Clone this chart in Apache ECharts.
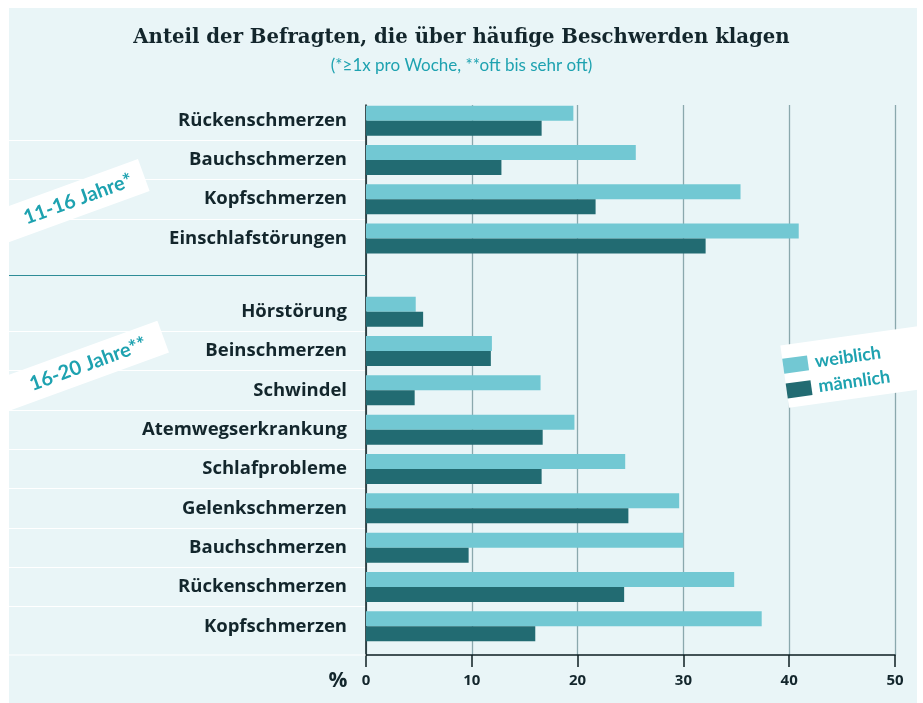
<!DOCTYPE html>
<html><head><meta charset="utf-8">
<script src="https://cdn.jsdelivr.net/npm/echarts@6/dist/echarts.min.js"></script>
<style>html,body{margin:0;padding:0;background:#fff}#c{width:923px;height:703px}</style>
</head><body><div id="c"></div>
<script>
const titleText = 'Anteil der Befragten, die über häufige Beschwerden klagen';
const subtitleText = '(*≥1x pro Woche, **oft bis sehr oft)';
const groupLabels = ['11-16 Jahre*', '16-20 Jahre**'];
const seriesNames = ['weiblich', 'männlich'];
const categories1 = ['Rückenschmerzen', 'Bauchschmerzen', 'Kopfschmerzen', 'Einschlafstörungen'];
const female1 = [19.6, 25.5, 35.4, 40.9];
const male1 = [16.6, 12.8, 21.7, 32.1];
const categories2 = ['Hörstörung', 'Beinschmerzen', 'Schwindel', 'Atemwegserkrankung', 'Schlafprobleme', 'Gelenkschmerzen', 'Bauchschmerzen', 'Rückenschmerzen', 'Kopfschmerzen'];
const female2 = [4.7, 11.9, 16.5, 19.7, 24.5, 29.6, 30.0, 34.8, 37.4];
const male2 = [5.4, 11.8, 4.6, 16.7, 16.6, 24.8, 9.7, 24.4, 16.0];
const xMin = 0, xMax = 50, xStep = 10;
const axisUnit = '%';

const COL_F = '#72c8d3', COL_M = '#226b72', TEAL = '#1ea2b0', DARK = '#13262c', BG = '#e9f5f7';
const FONT = 'Lato';
const LABEL_FONT = 'Open Sans';
const L = 366, R = 28;

const chart = echarts.init(document.getElementById('c'), null, {renderer: 'canvas'});

function catAxis(gi, data) {
  return {
    gridIndex: gi, type: 'category', data: data, inverse: true,
    axisLine: {show: false},
    axisTick: {show: false},
    axisLabel: {margin: 19, fontFamily: LABEL_FONT, fontWeight: 'bold', fontSize: 18.5, color: DARK},
    splitLine: {show: false}
  };
}
function sepAxis(gi, data) {
  return {
    gridIndex: gi, type: 'category', data: data, inverse: true,
    axisLine: {show: false}, axisTick: {show: false}, axisLabel: {show: false},
    splitLine: {show: true, showMinLine: false, showMaxLine: false, lineStyle: {color: '#ffffff', width: 1.2}}
  };
}
function hiddenX(gi) {
  return {gridIndex: gi, type: 'value', min: xMin, max: xMax, interval: xStep, show: false, splitLine: {show: false}};
}
function bar(name, data, gi, color) {
  return {
    name: name, type: 'bar', xAxisIndex: gi, yAxisIndex: gi, data: data,
    barWidth: 15, barGap: '0%', itemStyle: {color: color}, z: 3, animation: false
  };
}

function tiltedLabel(text, cx, cy, angleDeg, left, right, half) {
  return {
    type: 'group', x: cx, y: cy, rotation: angleDeg * Math.PI / 180, z: 20,
    children: [
      {type: 'rect', shape: {x: -left, y: -half, width: left + right, height: half * 2}, style: {fill: '#ffffff'}, z: 20},
      {type: 'text', x: 0, y: 0, z: 21, style: {text: text, fill: TEAL, fontFamily: FONT, fontWeight: 'bold', fontSize: 20,
        align: 'center', verticalAlign: 'middle', textAlign: 'center', textVerticalAlign: 'middle'}}
    ]
  };
}

const option = {
  backgroundColor: '#ffffff',
  animation: false,
  title: {
    text: titleText, subtext: subtitleText, left: 'center', top: 23, itemGap: 9,
    textStyle: {fontFamily: 'DejaVu Serif', fontWeight: 'bold', fontSize: 19.7, color: DARK},
    subtextStyle: {fontFamily: FONT, fontSize: 17, color: TEAL}
  },
  grid: [
    {left: L, right: R, top: 101, height: 157},
    {left: L, right: R, top: 292, height: 354},
    {left: L, right: R, top: 105, bottom: 48},
    {left: 9, width: L - 9, top: 101, height: 157},
    {left: 9, width: L - 9, top: 292, height: 354}
  ],
  xAxis: [
    hiddenX(0), hiddenX(1),
    {
      gridIndex: 2, type: 'value', min: xMin, max: xMax, interval: xStep,
      axisLine: {show: true, lineStyle: {color: '#0d1e22', width: 1.5}},
      axisTick: {show: true, length: 12, lineStyle: {color: '#0d1e22', width: 1.5}},
      splitLine: {show: true, lineStyle: {color: '#8aa8ad', width: 1.3}},
      axisLabel: {margin: 18, fontFamily: LABEL_FONT, fontWeight: 'bold', fontSize: 15, color: DARK}
    },
    hiddenX(3), hiddenX(4)
  ],
  yAxis: [
    catAxis(0, categories1), catAxis(1, categories2),
    {gridIndex: 2, type: 'value', min: 0, max: 1, axisLine: {show: true, onZero: false, lineStyle: {color: '#0d1e22', width: 1.5}},
      axisTick: {show: false}, axisLabel: {show: false}, splitLine: {show: false}},
    sepAxis(3, categories1), sepAxis(4, categories2)
  ],
  series: [
    bar(seriesNames[0], female1, 0, COL_F),
    bar(seriesNames[1], male1, 0, COL_M),
    bar(seriesNames[0], female2, 1, COL_F),
    bar(seriesNames[1], male2, 1, COL_M)
  ],
  graphic: [
    {type: 'rect', z: -10, shape: {x: 9, y: 8, width: 908, height: 695}, style: {fill: BG}},
    {type: 'line', z: 1, shape: {x1: 9, y1: 655, x2: 366, y2: 655}, style: {stroke: '#ffffff', lineWidth: 1.2}},
    {type: 'line', z: 1, shape: {x1: 9, y1: 275.5, x2: 366, y2: 275.5}, style: {stroke: '#2e8c97', lineWidth: 1}},
    tiltedLabel(groupLabels[0], 78, 199, 20, 85, 70, 17),
    tiltedLabel(groupLabels[1], 88, 364, 20, 95, 80, 17),
    {
      type: 'group', x: 850, y: 367, rotation: 8 * Math.PI / 180, z: 20,
      children: [
        {type: 'rect', z: 20, shape: {x: -66, y: -31, width: 200, height: 63}, style: {fill: '#ffffff'}},
        {type: 'rect', z: 21, shape: {x: -66, y: -17.5, width: 25, height: 15}, style: {fill: COL_F}},
        {type: 'rect', z: 21, shape: {x: -66, y: 7.5, width: 25, height: 15}, style: {fill: COL_M}},
        {type: 'text', z: 21, x: -34, y: -10, style: {text: seriesNames[0], fill: TEAL, fontFamily: FONT, fontWeight: 'bold', fontSize: 18, align: 'left', verticalAlign: 'middle', textAlign: 'left', textVerticalAlign: 'middle'}},
        {type: 'text', z: 21, x: -34, y: 15, style: {text: seriesNames[1], fill: TEAL, fontFamily: FONT, fontWeight: 'bold', fontSize: 18, align: 'left', verticalAlign: 'middle', textAlign: 'left', textVerticalAlign: 'middle'}}
      ]
    },
    {type: 'text', z: 5, x: 338, y: 681, style: {text: axisUnit, fill: DARK, fontFamily: LABEL_FONT, fontWeight: 'bold', fontSize: 21, align: 'center', verticalAlign: 'middle', textAlign: 'center', textVerticalAlign: 'middle'}}
  ]
};
chart.setOption(option);
</script>
</body></html>
